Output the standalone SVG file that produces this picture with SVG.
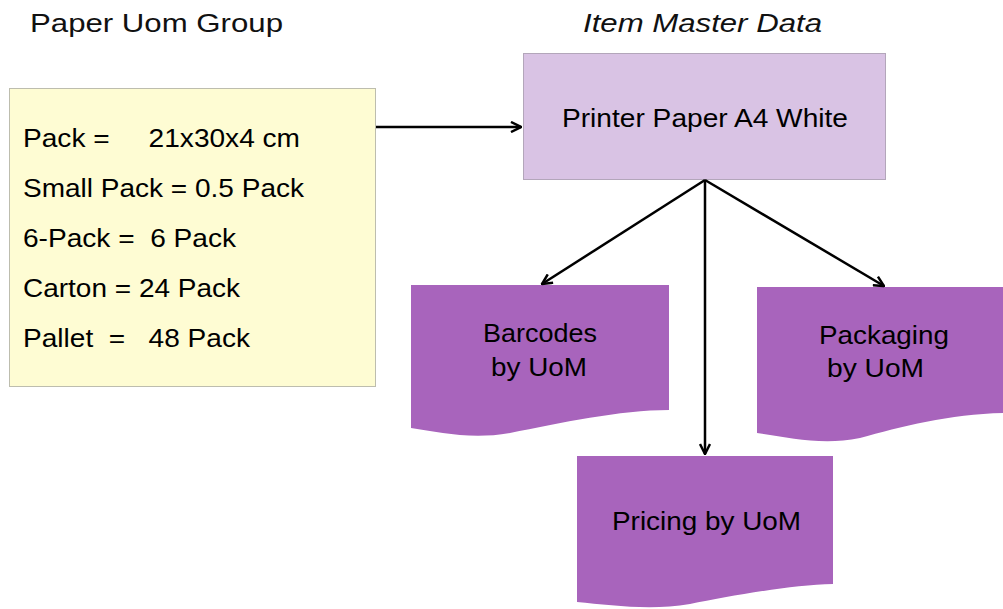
<svg xmlns="http://www.w3.org/2000/svg" width="1003" height="609" viewBox="0 0 1003 609">
<defs>
<style>
text{font-family:"Liberation Sans",Arial,sans-serif;fill:#000}
.title{font-size:26px;fill:#111}
.lst{font-size:26.5px}
.lbl{font-size:26px}
.doc{fill:#A864BC}
.conn{stroke:#000;stroke-width:2.5;fill:none}
</style>
<marker id="ah" viewBox="0 0 12 12" refX="11" refY="6" markerWidth="12" markerHeight="12" markerUnits="userSpaceOnUse" orient="auto">
<polyline points="1,1 11,6 1,11" fill="none" stroke="#000" stroke-width="2.5"/>
</marker>
</defs>
<rect width="1003" height="609" fill="#fff"/>
<text class="title" x="30" y="32" textLength="253" lengthAdjust="spacingAndGlyphs">Paper Uom Group</text>
<text class="title" x="583" y="32" font-style="italic" textLength="239" lengthAdjust="spacingAndGlyphs">Item Master Data</text>
<g id="uom-group">
<rect x="9.5" y="88.5" width="366" height="298" fill="#FEFCD3" stroke="#BDBDAE" stroke-width="1"/>
<text class="lst" x="23" y="147" xml:space="preserve" textLength="277" lengthAdjust="spacingAndGlyphs">Pack =     21x30x4 cm</text>
<text class="lst" x="23" y="197" textLength="281" lengthAdjust="spacingAndGlyphs">Small Pack = 0.5 Pack</text>
<text class="lst" x="23" y="247" xml:space="preserve" textLength="213" lengthAdjust="spacingAndGlyphs">6-Pack =  6 Pack</text>
<text class="lst" x="23" y="297" textLength="217" lengthAdjust="spacingAndGlyphs">Carton = 24 Pack</text>
<text class="lst" x="23" y="347" xml:space="preserve" textLength="227" lengthAdjust="spacingAndGlyphs">Pallet  =   48 Pack</text>
</g>
<g id="item-master">
<rect x="523.5" y="53.5" width="362" height="126" fill="#D9C3E4" stroke="#B3A6BA" stroke-width="1"/>
<text class="lbl" x="562" y="127" textLength="286" lengthAdjust="spacingAndGlyphs">Printer Paper A4 White</text>
</g>
<g id="barcodes">
<path class="doc" d="M411,285 H669 V410 C620,410 560,423 510,433 C470,440 440,432 411,428 Z"/>
<text class="lbl" x="483" y="342" textLength="114" lengthAdjust="spacingAndGlyphs">Barcodes</text>
<text class="lbl" x="491" y="376" textLength="96" lengthAdjust="spacingAndGlyphs">by UoM</text>
</g>
<g id="packaging">
<path class="doc" d="M757,287 H1003 V413 C950,414 900,427 860,438 C820,446 790,437 757,433 Z"/>
<text class="lbl" x="819" y="344" textLength="130" lengthAdjust="spacingAndGlyphs">Packaging</text>
<text class="lbl" x="827" y="377" textLength="97" lengthAdjust="spacingAndGlyphs">by UoM</text>
</g>
<g id="pricing">
<path class="doc" d="M577,456 H833 V584 C790,585 730,596 690,604 C650,611 610,605 577,602 Z"/>
<text class="lbl" x="612" y="530" textLength="189" lengthAdjust="spacingAndGlyphs">Pricing by UoM</text>
</g>
<g id="connectors">
<line class="conn" x1="376" y1="127" x2="521" y2="127" marker-end="url(#ah)"/>
<line class="conn" x1="705" y1="180" x2="542" y2="284" marker-end="url(#ah)"/>
<line class="conn" x1="705" y1="180" x2="705" y2="454" marker-end="url(#ah)"/>
<line class="conn" x1="705" y1="180" x2="884" y2="286" marker-end="url(#ah)"/>
</g>
</svg>
